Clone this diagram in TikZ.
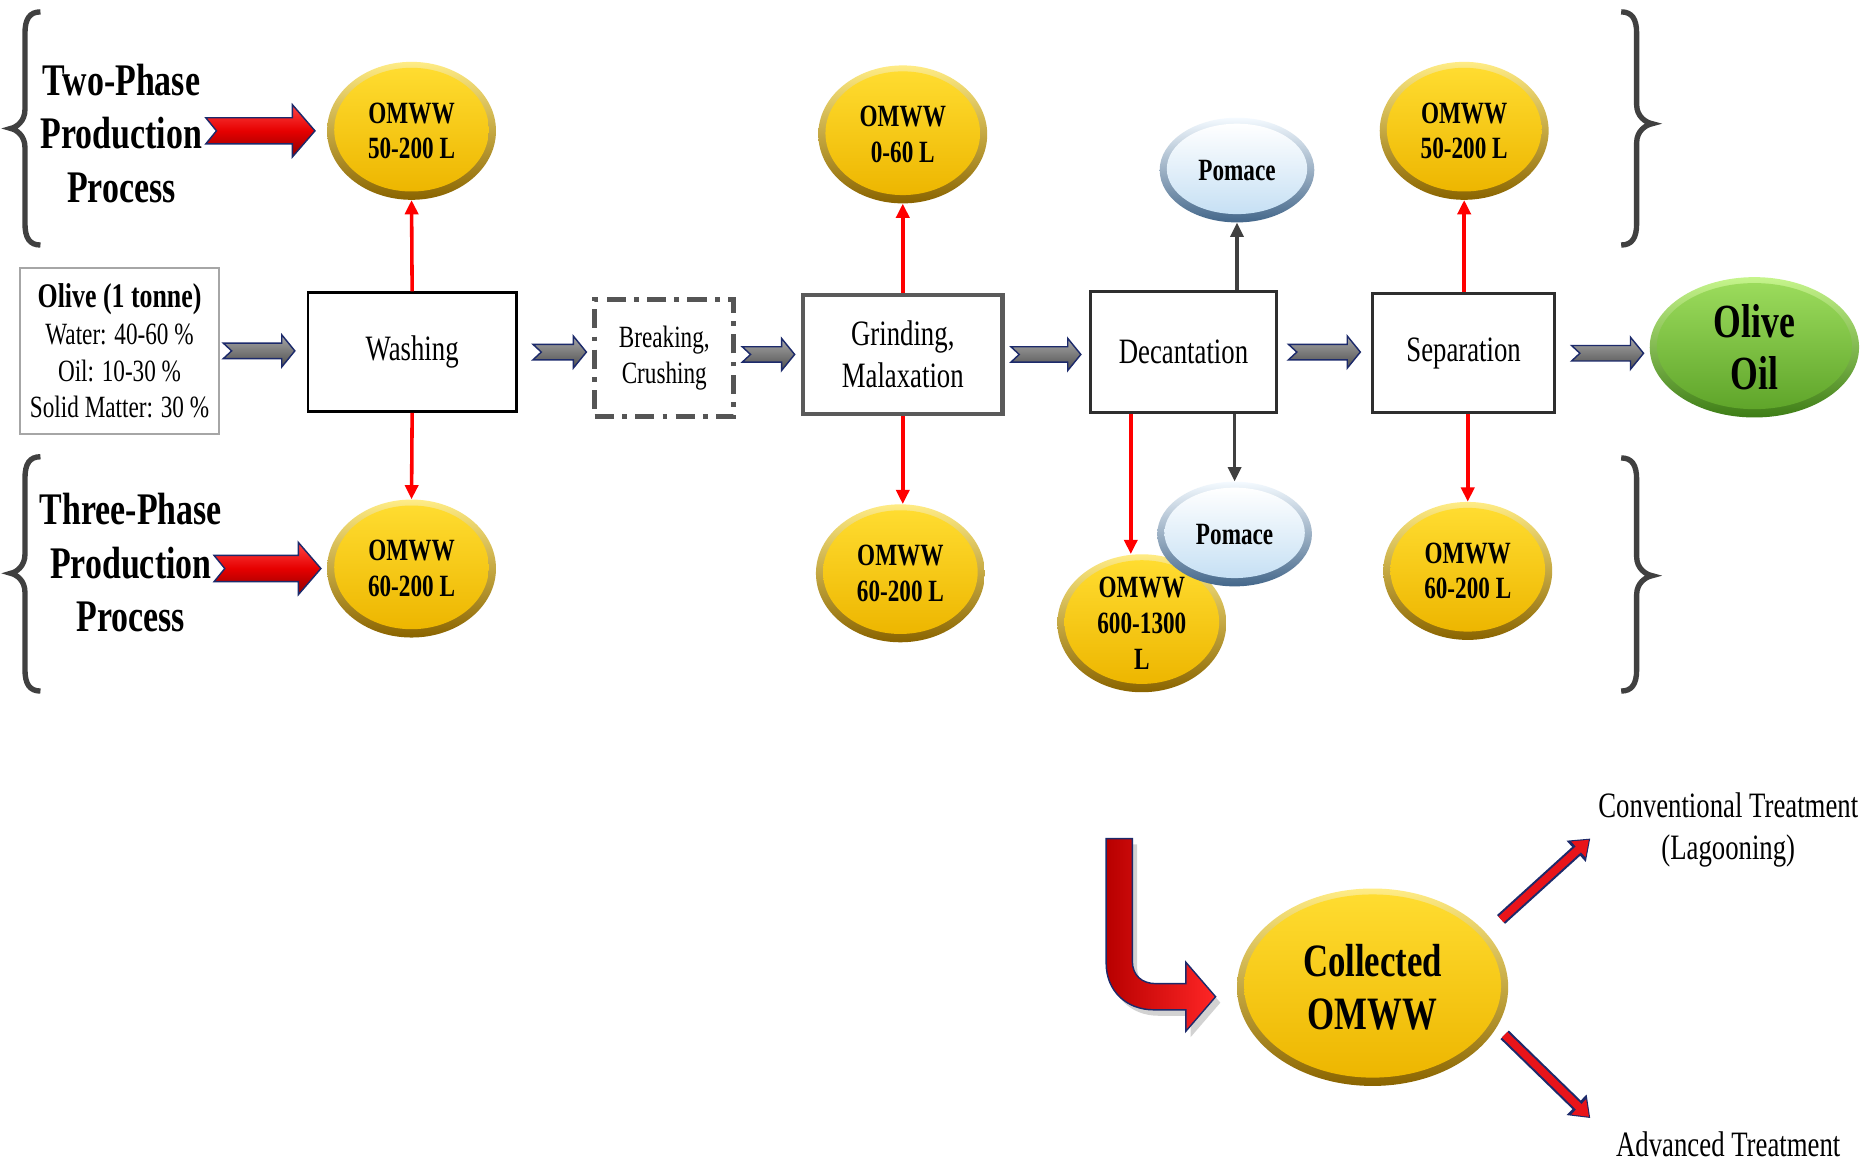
\documentclass[tikz,border=0pt]{standalone}
\usepackage{fontspec}
\setmainfont{Liberation Serif}[FakeStretch=0.75]
\usetikzlibrary{shapes.geometric,arrows.meta,calc,shadows}

\definecolor{yRimT}{HTML}{FFEC85}
\definecolor{yRimB}{HTML}{8A6400}
\definecolor{yInT}{HTML}{FFDC30}
\definecolor{yInB}{HTML}{EDB600}
\definecolor{bRimT}{HTML}{F4FAFF}
\definecolor{bRimB}{HTML}{44678A}
\definecolor{bInT}{HTML}{FFFFFF}
\definecolor{bInB}{HTML}{C6E0F4}
\definecolor{gRimT}{HTML}{C6F58C}
\definecolor{gRimB}{HTML}{3E7D16}
\definecolor{gInT}{HTML}{9BDB5C}
\definecolor{gInB}{HTML}{5FA52A}
\definecolor{navyline}{HTML}{1C2A6B}
\definecolor{braceg}{HTML}{404040}
\definecolor{garT}{HTML}{A8A8A8}
\definecolor{garB}{HTML}{4E4E4E}
\definecolor{rT}{HTML}{FF4545}
\definecolor{rM}{HTML}{E60000}
\definecolor{rB}{HTML}{8E0000}
\definecolor{LrL}{HTML}{B80000}
\definecolor{LrR}{HTML}{FF2626}
\definecolor{boxgray}{HTML}{A6A6A6}
\definecolor{grindgray}{HTML}{5A5A5A}
\definecolor{darkbox}{HTML}{2E2E2E}
\definecolor{dashgray}{HTML}{555555}
\definecolor{conngray}{HTML}{404040}
\definecolor{diagred}{HTML}{E8141A}

% glossy ellipse: name, x, y, rx, ry, colour prefix, font, text
\newcommand\glossy[8]{%
  \shade[top color=#6RimT, bottom color=#6RimB] (#2,#3) ellipse [x radius=#4, y radius=#5];
  \shade[top color=#6InT, bottom color=#6InB] (#2,#3-1) ellipse [x radius=#4-6, y radius=#5-6];
  \node[ellipse, inner sep=0pt, minimum width=2*#4, minimum height=2*#5, align=center, font=#7] (#1) at (#2,#3) {#8};}

% gray block arrow between two named coordinates on one horizontal line
\newcommand\grayblock[2]{%
  \shadedraw[top color=garT, bottom color=garB, draw=navyline, line width=1.2pt]
   ($(#1)+(0,-6.5)$) -- ($(#2)+(-11,-6.5)$) -- ($(#2)+(-11,-13.5)$) -- (#2)
   -- ($(#2)+(-11,13.5)$) -- ($(#2)+(-11,6.5)$) -- ($(#1)+(0,6.5)$) -- ($(#1)+(7,0)$) -- cycle;}

% red block arrow
\newcommand\redblock[2]{%
  \shadedraw[top color=rT, bottom color=rB, middle color=rM, draw=navyline, line width=1.2pt]
   ($(#1)+(0,-11)$) -- ($(#2)+(-19,-11)$) -- ($(#2)+(-19,-22)$) -- (#2)
   -- ($(#2)+(-19,22)$) -- ($(#2)+(-19,11)$) -- ($(#1)+(0,11)$) -- ($(#1)+(9,0)$) -- cycle;}

% curly brace: end x, shaft x, tip x, top y, tip y, bottom y
\newcommand\drawbrace[6]{%
  \draw[bracestyle] (#1,#4) .. controls ({#2+0.3*(#1-#2)},#4) and (#2,#4+6) .. (#2,#4+18)
   -- (#2,#5-16) .. controls (#2,#5-6) and ({#3+0.4*(#2-#3)},#5-1) .. (#3,#5)
   .. controls ({#3+0.4*(#2-#3)},#5+1) and (#2,#5+6) .. (#2,#5+16)
   -- (#2,#6-18) .. controls (#2,#6-6) and ({#2+0.3*(#1-#2)},#6) .. (#1,#6);}

\begin{document}
\begin{tikzpicture}[x=1pt,y=-1pt,
  bracestyle/.style={draw=braceg, line width=4.5pt},
  bigtxt/.style={align=center, inner sep=0pt, font=\bfseries\fontsize{38}{45}\selectfont},
  proc/.style={draw=black, line width=2.2pt, fill=white, inner sep=0pt, align=center, font=\fontsize{30}{35}\selectfont},
  procdash/.style={draw=dashgray, line width=4pt, dash pattern=on 16pt off 7pt on 4pt off 7pt, fill=white, inner sep=0pt, align=center, font=\fontsize{26}{30}\selectfont},
  redc/.style={draw=red, line width=3pt, -{Triangle[width=11pt,length=12pt]}},
  grayc/.style={draw=conngray, line width=2.6pt, -{Triangle[width=11pt,length=12pt]}},
  txt/.style={align=center, inner sep=0pt, font=\fontsize{30}{35}\selectfont}
]
\useasboundingbox (0,0) rectangle (1568,982);
\fill[white] (0,0) rectangle (1568,982);

% braces
\drawbrace{34}{21}{9}{10}{108}{206}
\drawbrace{34}{21}{9}{384}{482}{581}
\drawbrace{1363}{1376}{1389}{10}{104}{206}
\drawbrace{1363}{1376}{1389}{385}{484}{581}

% phase labels
\node[bigtxt] (two) at (102,112) {Two-Phase\\Production\\Process};
\node[bigtxt] (three) at (110,473) {Three-Phase\\Production\\Process};

% olive box
\node[draw=boxgray, line width=1.5pt, minimum width=167pt, minimum height=140pt, inner sep=0pt, align=center, font=\fontsize{26}{31}\selectfont] (olive) at (100.5,295)
  {{\bfseries\fontsize{29}{33}\selectfont Olive (1 tonne)}\\Water: 40-60 \%\\Oil: 10-30 \%\\Solid Matter: 30 \%};

% process boxes
\node[proc, minimum width=175pt, minimum height=100pt] (wash) at (346.5,296) {Washing};
\node[procdash, minimum width=117pt, minimum height=98pt] (brk) at (558.5,301) {Breaking,\\Crushing};
\node[proc, draw=grindgray, line width=3.8pt, minimum width=168pt, minimum height=100pt] (grd) at (759,298) {Grinding,\\Malaxation};
\node[proc, draw=darkbox, line width=2.6pt, minimum width=156pt, minimum height=102pt] (dec) at (995,296) {Decantation};
\node[proc, draw=darkbox, line width=2.6pt, minimum width=153pt, minimum height=100pt] (sep) at (1230.5,297) {Separation};

% ellipses
\glossy{e1}{346}{110}{71}{58}{y}{\bfseries\fontsize{26}{30}\selectfont}{OMWW\\50-200 L}
\glossy{e2}{346}{478}{71}{58}{y}{\bfseries\fontsize{26}{30}\selectfont}{OMWW\\60-200 L}
\glossy{e3}{759}{113}{71}{58}{y}{\bfseries\fontsize{26}{30}\selectfont}{OMWW\\0-60 L}
\glossy{e4}{757}{482}{71}{58}{y}{\bfseries\fontsize{26}{30}\selectfont}{OMWW\\60-200 L}
\glossy{o600}{960}{524}{71}{58}{y}{\bfseries\fontsize{26}{30}\selectfont}{OMWW\\600-1300\\L}
\glossy{pt}{1040}{143}{65}{44}{b}{\bfseries\fontsize{26}{30}\selectfont}{Pomace}
\glossy{pb}{1038}{449}{65}{44}{b}{\bfseries\fontsize{26}{30}\selectfont}{Pomace}
\glossy{etr}{1231}{110}{71}{58}{y}{\bfseries\fontsize{26}{30}\selectfont}{OMWW\\50-200 L}
\glossy{ebr}{1234}{480}{71}{58}{y}{\bfseries\fontsize{26}{30}\selectfont}{OMWW\\60-200 L}
\glossy{oil}{1475}{292}{88}{59}{g}{\bfseries\fontsize{40}{44}\selectfont}{Olive\\Oil}
\glossy{col}{1154}{830}{114}{83}{y}{\bfseries\fontsize{39}{45}\selectfont}{Collected\\OMWW}

% thin connectors
\draw[redc] (wash.north) -- (e1.south);
\draw[redc] (wash.south) -- (e2.north);
\draw[redc] (grd.north) -- (grd.north |- e3.south);
\draw[redc] (grd.south) -- (grd.south |- e4.north);
\coordinate (dd) at ($(dec.south west)+(35,0)$);
\draw[redc] (dd) -- (dd |- o600.north);
\draw[redc] (etr.south |- sep.north) -- (etr.south);
\draw[redc] (ebr.north |- sep.south) -- (ebr.north);
\draw[grayc] (pt.south |- dec.north) -- (pt.south);
\draw[grayc] (pb.north |- dec.south) -- (pb.north);

% gray block arrows
\coordinate (g1t) at ($(olive.east)+(3,0)$);
\coordinate (g1h) at ($(wash.west |- g1t)+(-10,0)$);
\coordinate (g2t) at ($(wash.east)+(13,0)$);
\coordinate (g2h) at ($(brk.west |- g2t)+(-5,0)$);
\coordinate (g3t) at ($(brk.east |- grd.west)+(5,0)$);
\coordinate (g3h) at ($(grd.west)+(-5,0)$);
\coordinate (g4t) at ($(grd.east)+(5,0)$);
\coordinate (g4h) at ($(dec.west |- g4t)+(-7,0)$);
\coordinate (g5t) at ($(dec.east)+(9,0)$);
\coordinate (g5h) at ($(sep.west |- g5t)+(-9,0)$);
\coordinate (g6t) at ($(sep.east)+(13,0)$);
\coordinate (g6h) at ($(oil.west |- g6t)+(-5,0)$);
\grayblock{g1t}{g1h}
\grayblock{g2t}{g2h}
\grayblock{g3t}{g3h}
\grayblock{g4t}{g4h}
\grayblock{g5t}{g5h}
\grayblock{g6t}{g6h}

% red block arrows
\coordinate (r1t) at (173,110);
\coordinate (r1h) at ($(e1.west)+(-10,0)$);
\coordinate (r2t) at (180,478);
\coordinate (r2h) at ($(e2.west)+(-5,0)$);
\redblock{r1t}{r1h}
\redblock{r2t}{r2h}

% L-shaped arrow into collected OMWW
\path[drop shadow={opacity=0.35, shadow xshift=4pt, shadow yshift=-5pt}, left color=LrL, right color=LrR, draw=navyline, line width=1.2pt]
  (930,705) -- (930,810) .. controls (930,833) and (947,849) .. (970,849) -- (997,849) -- (997,867)
  -- (1022,838) -- (997,809) -- (997,827) -- (972,827) .. controls (960,827) and (952,820) .. (952,808)
  -- (952,705) -- cycle;

% treatment arrows
\coordinate (t1s) at (1262,773);
\coordinate (t1e) at (1337,705);
\coordinate (t2s) at (1265,870);
\coordinate (t2e) at (1337,940);
\draw[navyline, line width=10pt, -{Triangle[width=23pt,length=16pt]}] (t1s) -- (t1e);
\draw[diagred, line width=6.5pt, shorten >=1.5pt, -{Triangle[width=17pt,length=12pt]}] (t1s) -- (t1e);
\draw[navyline, line width=10pt, -{Triangle[width=23pt,length=16pt]}] (t2s) -- (t2e);
\draw[diagred, line width=6.5pt, shorten >=1.5pt, -{Triangle[width=17pt,length=12pt]}] (t2s) -- (t2e);

\node[txt] (conv) at (1453,698) {Conventional Treatment\\(Lagooning)};
\node[txt] (adv) at (1453,962) {Advanced Treatment};
\end{tikzpicture}
\end{document}
